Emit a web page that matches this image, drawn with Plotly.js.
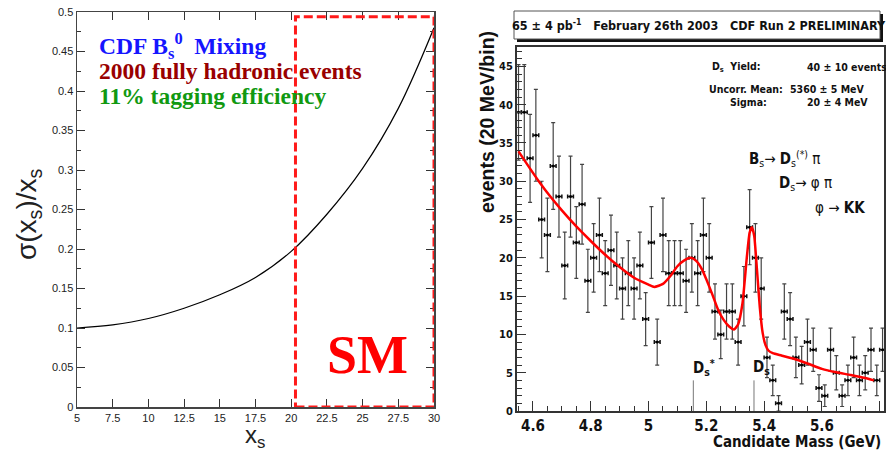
<!DOCTYPE html>
<html>
<head>
<meta charset="utf-8">
<script src="https://cdn.plot.ly/plotly-3.0.1.min.js"></script>
<style>
  html, body { margin: 0; padding: 0; background: #fff; }
  #chart { width: 886px; height: 451px; }
</style>
</head>
<body>
<div id="chart"></div>
<script>
// left panel: sigma(xs)/xs versus xs
var xsValues = [5, 7.5, 10, 12.5, 15, 17.5, 20, 22.5, 25, 27.5, 30];
var sigmaOverXs = [0.100, 0.104, 0.112, 0.125, 0.142, 0.164, 0.197, 0.244, 0.302, 0.378, 0.480];
var smRange = [20.3, 30];
var smTop = 0.494;

// right panel: candidate mass histogram (20 MeV bins)
var massBins = [4.55, 4.57, 4.59, 4.61, 4.63, 4.65, 4.67, 4.69, 4.71, 4.73,
                4.75, 4.77, 4.79, 4.81, 4.83, 4.85, 4.87, 4.89, 4.91, 4.93,
                4.95, 4.97, 4.99, 5.01, 5.03, 5.05, 5.07, 5.09, 5.11, 5.13,
                5.15, 5.17, 5.19, 5.21, 5.23, 5.25, 5.27, 5.29, 5.31, 5.33,
                5.35, 5.37, 5.39, 5.41, 5.43, 5.45, 5.47, 5.49, 5.51, 5.53,
                5.55, 5.57, 5.59, 5.61, 5.63, 5.65, 5.67, 5.69, 5.71, 5.73,
                5.75, 5.77, 5.79, 5.81];
var eventCounts = [39, 39, 33, 36, 25, 23, 32, 28, 19, 28,
                   22, 27, 17, 20, 23, 18, 21, 19, 16, 18,
                   16, 19, 12, 22, 9, 23, 18, 18, 18, 17,
                   20, 18, 23, 20, 13, 10, 13, 13, 9, 15,
                   24, 20, 16, 7, 4, 1, 13, 12, 7, 6,
                   9, 8, 3, 2, 8, 5, 2, 4, 7, 4,
                   5, 8, 4, 8];
// fitted curve
var fitMass = [4.55, 4.58, 4.62, 4.66, 4.70, 4.75, 4.80, 4.85, 4.90, 4.95,
               5.00, 5.02, 5.05, 5.075, 5.10, 5.125, 5.147, 5.165, 5.185, 5.20,
               5.22, 5.24, 5.26, 5.28, 5.296, 5.31, 5.325, 5.34, 5.35, 5.358,
               5.366, 5.375, 5.385, 5.395, 5.405, 5.415, 5.43, 5.46, 5.50, 5.55,
               5.60, 5.65, 5.70, 5.75, 5.78];
var fitEvents = [33.9, 32.2, 30.0, 28.0, 26.2, 24.1, 22.2, 20.4, 18.8, 17.4,
                 16.5, 16.2, 16.6, 17.6, 18.9, 19.7, 20.0, 19.6, 18.5, 17.2,
                 15.3, 13.3, 11.9, 11.0, 10.65, 11.3, 14.0, 20.0, 23.3, 24.0,
                 22.8, 18.6, 13.6, 10.2, 8.6, 7.9, 7.55, 7.25, 6.85, 6.2,
                 5.5, 5.05, 4.7, 4.3, 4.0];
var peakMass = [5.155, 5.365];   // Ds* and Ds markers
var peakMarkHeight = 4;

var narrow = 'Liberation Sans Narrow, DejaVu Sans Condensed, Arial Narrow, sans-serif';
var serif = 'Liberation Serif, DejaVu Serif, serif';
var sans = 'Liberation Sans, Arial, sans-serif';

var W = 886, H = 451;
function px(x) { return x / W; }
function py(y) { return 1 - y / H; }

// vertical peak markers
var markX = [], markY = [];
for (const m of peakMass) {
    markX.push(m, m, null);
    markY.push(0, peakMarkHeight, null);
}

var data = [
    {
        type: 'scatter', mode: 'lines',
        x: xsValues, y: sigmaOverXs,
        xaxis: 'x', yaxis: 'y',
        line: { color: 'black', width: 1.2, shape: 'spline' },
        hoverinfo: 'skip'
    },
    {
        type: 'scatter', mode: 'lines',
        x: markX, y: markY,
        xaxis: 'x2', yaxis: 'y2',
        line: { color: '#777', width: 1 },
        hoverinfo: 'skip'
    },
    {
        type: 'scatter', mode: 'markers',
        x: massBins, y: eventCounts,
        xaxis: 'x2', yaxis: 'y2',
        marker: { color: 'black', size: 3 },
        error_y: { type: 'sqrt', visible: true, color: '#444', thickness: 1.2, width: 2 },
        error_x: { type: 'constant', value: 0.01, visible: true, color: '#111', thickness: 1.5, width: 2 },
        hoverinfo: 'skip'
    },
    {
        type: 'scatter', mode: 'lines',
        x: fitMass, y: fitEvents,
        xaxis: 'x2', yaxis: 'y2',
        line: { color: '#ff0000', width: 2.5, shape: 'spline', smoothing: 0.5 },
        hoverinfo: 'skip'
    }
];

var ann = function (text, x, y, font, extra) {
    return Object.assign({
        text: text, xref: 'paper', yref: 'paper', x: px(x), y: py(y),
        xanchor: 'left', yanchor: 'middle', showarrow: false, font: font
    }, extra || {});
};

var statFont = { family: narrow, size: 10.5, color: '#111', weight: 'bold' };
var decayFont = { family: narrow, size: 15, color: '#111' };

var annotations = [
    // left panel
    ann('CDF B<sub>s</sub><sup>0</sup>  Mixing', 97, 46, { family: serif, size: 23.5, color: '#1515ff', weight: 'bold' }),
    ann('2000 fully hadronic events', 97, 71, { family: serif, size: 23.5, color: '#990000', weight: 'bold' }),
    ann('11% tagging efficiency', 97, 96, { family: serif, size: 23.5, color: '#119911', weight: 'bold' }),
    ann('SM', 367, 355, { family: serif, size: 54, color: '#ff0000', weight: 'bold' }, { xanchor: 'center' }),
    ann('σ(x<sub>s</sub>)/x<sub>s</sub>', 28, 214, { family: sans, size: 28, color: '#222' }, { xanchor: 'center', textangle: -90 }),
    ann('x<sub>s</sub>', 255, 436, { family: sans, size: 24, color: '#222' }, { xanchor: 'center' }),

    // right panel
    ann('65 ± 4 pb<sup>-1</sup>   February 26th 2003   CDF Run 2 PRELIMINARY', 699, 25,
        { family: narrow, size: 12.5, color: '#111', weight: 'bold' }, { xanchor: 'center' }),
    ann('events (20 MeV/bin)', 487, 122, { family: sans, size: 19.5, color: '#111', weight: 'bold' },
        { xanchor: 'center', textangle: -90 }),
    ann('Candidate Mass (GeV)', 883, 442, { family: narrow, size: 15, color: '#111', weight: 'bold' }, { xanchor: 'right' }),

    ann('D<sub>s</sub>  Yield:', 710, 67, statFont),
    ann('40 ± 10 events', 805, 67, statFont),
    ann('Uncorr. Mean:', 785, 89, statFont, { xanchor: 'right' }),
    ann('5360 ± 5 MeV', 788, 89, statFont),
    ann('Sigma:', 728, 102, statFont),
    ann('20 ± 4 MeV', 805, 102, statFont),

    ann('<b>B</b><sub>s</sub>→ <b>D</b><sub>s</sub><sup>(*)</sup> π', 747, 158, decayFont),
    ann('<b>D</b><sub>s</sub>→ φ π', 777, 183, decayFont),
    ann('φ → <b>KK</b>', 813, 208, decayFont),

    ann('D<sub>s</sub><sup>*</sup>', 691, 367, { family: narrow, size: 15, color: '#111', weight: 'bold' }),
    ann('D<sub>s</sub>', 751, 367, { family: narrow, size: 15, color: '#111', weight: 'bold' })
];

var shapes = [
    // SM region
    {
        type: 'rect', xref: 'x', yref: 'y',
        x0: smRange[0], x1: smRange[1], y0: 0, y1: smTop,
        line: { color: '#ff1a1a', width: 3, dash: '9px,4px' }
    },
    // title box shadow + box
    {
        type: 'rect', xref: 'paper', yref: 'paper',
        x0: px(517), x1: px(883), y0: py(42), y1: py(14),
        fillcolor: '#111', line: { width: 0 }
    },
    {
        type: 'rect', xref: 'paper', yref: 'paper',
        x0: px(514), x1: px(880), y0: py(39), y1: py(11),
        fillcolor: 'white', line: { color: '#555', width: 1 }
    }
];

var tickFontL = { family: sans, size: 11, color: '#222' };
var tickFontR = { family: narrow, size: 11, color: '#111', weight: 'bold' };

var layout = {
    width: W, height: H,
    margin: { l: 0, r: 0, t: 0, b: 0 },
    paper_bgcolor: 'white', plot_bgcolor: 'white',
    showlegend: false,
    xaxis: {
        domain: [px(77), px(434)], range: [5, 30], anchor: 'y',
        tick0: 5, dtick: 2.5, ticks: 'inside', ticklen: 8, tickcolor: '#333',
        showline: true, linecolor: '#444', linewidth: 1.5, mirror: 'allticks',
        showgrid: false, zeroline: false, tickfont: tickFontL
    },
    yaxis: {
        domain: [py(407), py(12)], range: [0, 0.5], anchor: 'x',
        dtick: 0.05, ticks: 'inside', ticklen: 8, tickcolor: '#333',
        minor: { dtick: 0.025, ticklen: 4, ticks: 'inside', tickcolor: '#333' },
        showline: true, linecolor: '#444', linewidth: 1.5, mirror: 'allticks',
        showgrid: false, zeroline: false, tickfont: tickFontL
    },
    xaxis2: {
        domain: [px(516.5), px(884)], range: [4.543, 5.815], anchor: 'y2',
        dtick: 0.2, ticks: 'inside', ticklen: 10, tickcolor: '#333',
        minor: { dtick: 0.05, ticklen: 5, ticks: 'inside', tickcolor: '#333' },
        showline: true, linecolor: '#333', linewidth: 1.5, mirror: true,
        showgrid: false, zeroline: false,
        tickfont: { family: narrow, size: 15, color: '#111', weight: 'bold' }
    },
    yaxis2: {
        domain: [py(411), py(46.5)], range: [0, 47.6], anchor: 'x2',
        dtick: 5, ticks: 'inside', ticklen: 9, tickcolor: '#333',
        minor: { dtick: 1, ticklen: 5, ticks: 'inside', tickcolor: '#333' },
        showline: true, linecolor: '#333', linewidth: 1.5, mirror: true,
        showgrid: false, zeroline: false, tickfont: tickFontR
    },
    shapes: shapes,
    annotations: annotations
};

Plotly.newPlot('chart', data, layout, { displayModeBar: false, staticPlot: true });
</script>
</body>
</html>
